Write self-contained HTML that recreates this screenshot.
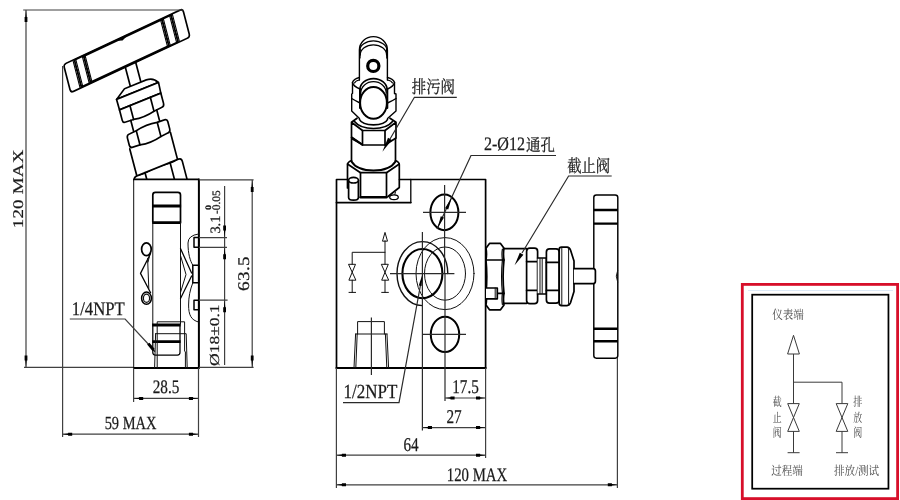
<!DOCTYPE html>
<html lang="zh">
<head>
<meta charset="utf-8">
<title>Valve manifold drawing</title>
<style>
html,body{margin:0;padding:0;background:#fff;}
body{width:900px;height:500px;overflow:hidden;}
svg{display:block;}
.o{fill:none;stroke:#000;stroke-width:1.7;stroke-linejoin:round;stroke-linecap:round;}
.w{fill:#fff;stroke:#000;stroke-width:1.7;stroke-linejoin:round;stroke-linecap:round;}
.t{fill:none;stroke:#111;stroke-width:1;stroke-linecap:round;stroke-linejoin:round;}
.k{fill:none;stroke:#000;stroke-width:2.6;}
.d{fill:none;stroke:#404040;stroke-width:1.2;}
.a{fill:#000;stroke:none;}
text{font-family:"Liberation Serif","Noto Serif CJK SC",serif;fill:#1a1a1a;stroke:#1a1a1a;stroke-width:0.25;text-rendering:geometricPrecision;}
.n{font-size:19px;}
.c{font-family:"Liberation Serif","Noto Serif CJK SC",serif;font-size:15px;fill:#222;}
.s{font-family:"Liberation Serif","Noto Serif CJK SC",serif;font-size:12.4px;fill:#4a4a4a;stroke:none;}
</style>
</head>
<body>
<svg width="900" height="500" viewBox="0 0 900 500">
<rect x="0" y="0" width="900" height="500" fill="#fff"/>

<!-- ============ LEFT VIEW ============ -->
<g id="leftview">
<!-- tilted valve -->
<g id="lv-valve" transform="matrix(0.927,-0.375,0.254,0.967,131.1,67)">
  <!-- stem -->
  <path class="w" d="M-5.7,-4 L-5.7,19 L5.7,19 L5.7,-4 Z"/>
  <!-- dome -->
  <path class="w" d="M-22.5,24.8 L-12,17.8 L11.5,17.8 Q19,18 22.5,24.8 Z"/>
  <!-- cap band -->
  <path class="w" d="M-22.5,24.8 L22.8,24.8 L22.3,35.7 L-22.3,35.7 Z"/>
  <!-- hex1 -->
  <path class="w" d="M-22.3,35.7 L22.3,35.7 L22.3,46.4 Q22.3,49.4 19.3,49.4 L11,50 Q0,52.4 -11,50 L-19.3,49.4 Q-22.3,49.4 -22.3,46.4 Z"/>
  <path class="o" d="M-11,35.7 L-11,50 M11,35.7 L11,50"/>
  <!-- neck -->
  <path class="o" d="M-14,49.8 L-14,62 M14,49.8 L14,62"/>
  <!-- nut2 -->
  <path class="w" d="M-18.8,62 L-11.3,61.6 Q0,59 11.3,61.6 L18.8,62 Q21.8,62 21.8,65 L21.8,72.6 Q21.8,75.6 18.8,75.6 L11.3,76.2 Q0,78.8 -11.3,76.2 L-18.8,75.6 Q-21.8,75.6 -21.8,72.6 L-21.8,65 Q-21.8,62 -18.8,62 Z"/>
  <path class="o" d="M-11.3,61.6 L-11.3,76.2 M11.3,61.6 L11.3,76.2"/>
  <!-- body cylinder -->
  <path class="o" d="M-22.3,76 L-22.3,104.5 M21.6,76 L21.6,104"/>
  <!-- nut3 -->
  <path class="w" d="M-22.8,104 L22.5,104 Q25.8,104 25.8,107.5 L25.8,130 L-25.8,130 L-25.8,107.5 Q-25.8,104 -22.8,104 Z"/>
  <path class="a" d="M-22.8,104 L-13.5,104 L-13.5,105.2 Q-18,105.6 -22.8,104 Z M-13.5,104 L13.5,104 L13.5,105.2 Q6,104.2 0,104.2 Q-6,104.2 -13.5,105.2 Z M13.5,104 L22.5,104 Q18,105.6 13.5,105.2 Z"/>
  <path class="o" d="M-13.5,104 L-13.5,130 M13.5,104 L13.5,130"/>
</g>
<!-- handle -->
<g id="lv-handle" transform="matrix(0.906,-0.423,0.251,0.968,126.75,50.75)">
  <rect class="w" x="-65.8" y="-14.5" width="131.6" height="29" rx="3" ry="3"/>
  <rect class="w" x="-53.9" y="-13.9" width="106.6" height="27.8"/>
  <rect class="w" x="-43.7" y="-13.5" width="86.4" height="27"/>
  <g fill="none" stroke="#000" style="stroke-width:1.1">
  <path d="M-55.4,-14.2 L-55.4,14.2 M-52.4,-14 L-52.4,14 M-45.2,-13.8 L-45.2,13.8 M-42.2,-13.6 L-42.2,13.6 M41.2,-13.6 L41.2,13.6 M44.2,-13.8 L44.2,13.8 M51.2,-14 L51.2,14 M54.2,-14.2 L54.2,14.2"/>
  <path style="stroke-width:1.6" stroke-dasharray="1.6,1.6" d="M-53.9,-14 L-53.9,14 M-43.7,-13.6 L-43.7,13.6 M42.7,-13.6 L42.7,13.6 M52.7,-14 L52.7,14"/>
  </g>
  <path class="a" d="M-7,-13.5 L-1.5,-11.3 L4,-13.5 Z"/>
</g>
<!-- body -->
<rect x="133.8" y="179.8" width="64.9" height="188.2" fill="#fff" stroke="none"/>
<path class="o" style="stroke-width:0.95" d="M133.7,368 L133.7,179.8"/>
<path class="o" style="stroke-width:1.6" d="M133.8,179.4 L198.9,179.4"/>
<path class="o" style="stroke-width:2" d="M198.9,179.6 L198.9,368"/>
<path class="o" style="stroke-width:1.8" d="M133.8,368 L198.7,368"/>
<!-- upper plug -->
<path class="o" d="M152.8,222.5 L152.8,195 Q152.8,192.4 155.4,192.4 L177.9,192.4 Q180.5,192.4 180.5,195 L180.5,222.5"/>
<path class="k" style="stroke-width:2.8" d="M152.2,206 L181.1,206 M152.2,222.6 L181.1,222.6"/>
<path class="t" d="M152.8,222.5 L152.8,324 M180.5,222.5 L180.5,324"/>
<!-- lower plug -->
<path class="k" style="stroke-width:2.9" d="M152.2,325 L180.6,325 M152.2,341.6 L180.6,341.6"/>
<path class="o" style="stroke-width:1.25" d="M152.8,324.4 L152.8,352.6 Q152.8,355.1 155.4,355.1 L177.4,355.1 Q180,355.1 180,352.6 L180,324.4"/>
<path class="t" d="M157.2,368 L157.2,321.8 L184.6,321.8 L184.6,351 L185.4,352 L185.4,368 M155.6,333.7 L154.6,368 M155.6,333.7 L186.2,333.7 L187.2,368"/>
<!-- left circles and springs -->
<ellipse class="o" cx="146.4" cy="249.2" rx="4.8" ry="6.4"/>
<ellipse class="o" cx="146.5" cy="298.2" rx="4.9" ry="6.1" style="stroke-width:1.5"/>
<ellipse class="t" cx="146.5" cy="298.2" rx="3.1" ry="4.1" style="stroke-width:1.2"/>
<path class="o" style="stroke-width:1.25" d="M150.6,253.5 L140.5,273.4 L150.6,292.8"/>
<path class="t" d="M147.6,258.5 L148.8,288.5 M149.6,256 L148,262"/>
<!-- right springs -->
<path class="o" style="stroke-width:1.25" d="M180.5,248.6 L191.6,273 M191.6,276 L180.5,298.5"/>
<path class="t" d="M180.5,255.5 L186,274.5 L180.5,292.5"/>
<path class="t" d="M198.4,234 Q188,235.5 188,243 C188,254 190.2,261 192.8,265.2 M192.8,282.8 C190,290 188.6,297 188.6,305 C188.6,315 191,320 198.4,322"/>
<rect class="o" x="194" y="237.6" width="4.7" height="9.7" style="stroke-width:1.5"/>
<rect class="o" x="192.8" y="265.2" width="5.9" height="17.6" style="stroke-width:1.5"/>
<rect class="o" x="194" y="300.3" width="4.7" height="9.5" style="stroke-width:1.5"/>
</g>

<!-- left view dimensions -->
<defs>
<filter id="g" x="-5%" y="-5%" width="110%" height="110%" color-interpolation-filters="sRGB"><feOffset dx="0" dy="0"/></filter>
<path id="ah" d="M0,0 L5.5,-0.7 L5.5,-1.5 L9.6,-1.5 L9.6,1.5 L5.5,1.5 L5.5,0.7 Z"/>
<path id="av" d="M0,0 L7,-0.7 L7,-1.4 L12,-1.4 L12,1.4 L7,1.4 L7,0.7 Z"/>
</defs>
<g id="lv-dims" filter="url(#g)">
<path class="d" d="M23.2,10 L183,10 M26,10 L26,367.4 M24,367.4 L133,367.4 M199,367.4 L253.6,367.4 M199,179.9 L253.6,179.9 M252.2,179.9 L252.2,367.4"/>
<path class="d" d="M62.6,66 L62.6,437 M198.5,368 L198.5,437 M133.6,368 L133.6,402 M133.6,398.4 L198.5,398.4 M62.6,434.2 L198.5,434.2"/>
<path class="d" d="M224.6,186 L224.6,365 M199,237.6 L227,237.6 M199,247.3 L227,247.3 M199,300.2 L227.6,300.2"/>
<!-- arrows -->
<g class="a">
<use href="#av" transform="translate(26,10) rotate(90)"/>
<use href="#av" transform="translate(26,367.4) rotate(-90)"/>
<use href="#av" transform="translate(252.2,179.9) rotate(90)"/>
<use href="#av" transform="translate(252.2,367.4) rotate(-90)"/>
<use href="#av" transform="translate(224.6,237.6) rotate(-90)"/>
<use href="#av" transform="translate(224.6,247.3) rotate(90)"/>
<use href="#av" transform="translate(224.6,300.2) rotate(90)"/>
<use href="#ah" transform="translate(133.6,398.4)"/>
<use href="#ah" transform="translate(198.5,398.4) rotate(180)"/>
<use href="#ah" transform="translate(62.6,434.2)"/>
<use href="#ah" transform="translate(198.5,434.2) rotate(180)"/>
</g>
<!-- leader 1/4NPT -->
<path class="d" d="M69.8,319 L125.1,319 L151,347"/>
<path d="M148.3,343.6 L153.6,350" stroke="#000" style="stroke-width:3" fill="none"/><path d="M153,349.5 L154.8,351.6" stroke="#000" style="stroke-width:1.2" fill="none"/>
<!-- text -->
<text class="n" transform="translate(166,393.4) scale(0.8,1)" text-anchor="middle" style="font-size:19px">28.5</text>
<text class="n" transform="translate(130.5,428.8) scale(0.78,1)" text-anchor="middle" style="font-size:18.5px">59 MAX</text>
<text class="n" transform="translate(22.9,188.8) rotate(-90) scale(1,0.78)" text-anchor="middle" letter-spacing="0.2">120 MAX</text>
<text class="n" transform="translate(249,273.5) rotate(-90) scale(1,0.85)" text-anchor="middle" style="font-size:19.2px" letter-spacing="0.3">63.5</text>
<text class="n" transform="translate(218.8,335.2) rotate(-90) scale(1,0.78)" text-anchor="middle" style="font-size:17.5px">Ø18±0.1</text>
<text class="n" transform="translate(220.2,233.6) rotate(-90)" style="font-size:14.4px">3.1</text>
<text class="n" transform="translate(220.2,214) rotate(-90)" style="font-size:11.4px">-0.05</text>
<text class="n" transform="translate(210.6,207.5) rotate(-90) scale(1.2,1)" style="font-size:8.4px;font-weight:bold" text-anchor="middle">0</text>
<text class="n" transform="translate(98.3,314.5) scale(0.87,1)" text-anchor="middle" style="font-size:19.2px">1/4NPT</text>
</g>

<!-- ============ FRONT VIEW ============ -->
<g id="frontview">
<!-- body -->
<path class="o" style="stroke-width:1.7" d="M347,179.5 L336.5,179.5 L336.5,368 M399.5,179.5 L485.6,179.5 L485.6,368"/>
<path class="o" style="stroke-width:2.2" d="M336.5,368 L485.6,368"/>
<path class="o" style="stroke-width:1.8" d="M336.5,202.6 L410.8,202.6"/>
<path class="o" style="stroke-width:1.3" d="M410.8,202.6 L410.8,179.5"/>

<!-- top valve: handle end-on -->
<path class="w" style="stroke-width:1.4" d="M359.4,80 L359.4,50 A14,13.4 0 0 1 387.4,50 L387.4,80"/>
<path class="o" style="stroke-width:1.3" d="M359.8,50.5 A13.6,9.6 0 0 1 387,50.5 M360.2,55 A13.2,10.2 0 0 1 386.6,55"/>
<path class="a" d="M359.3,49 L360.8,49 L360.6,58 L359.3,60 Z M387.5,49 L386,49 L386.2,58 L387.5,60 Z"/>
<circle cx="373.3" cy="65.9" r="5.6" fill="#fff" stroke="#000" style="stroke-width:3.2"/>
<!-- collar -->
<path class="o" style="stroke-width:1.4" d="M359.3,77.5 Q353.5,79 352.5,82.5 L352.5,93.5 L351.7,94 L351.7,111 L359.5,118.5"/>
<path class="o" style="stroke-width:1.4" d="M387.5,77.5 Q393.5,79 394.5,82.5 L394.5,93.5 L396,94 L396,111 L387.5,118.5"/>
<path class="o" style="stroke-width:1.2" d="M354.5,83 Q355.5,80.8 359.3,80 M392.5,83 Q391.5,80.8 387.5,80"/>
<path class="o" style="stroke-width:1.4" d="M352.5,82.5 Q353.5,86.5 360,89 M394.5,82.5 Q393.5,86.5 387.5,89"/>
<path class="o" style="stroke-width:1.4" d="M351.7,98.5 Q355,100.5 360,103 M396,98.5 Q393,100.5 387.5,103"/>
<!-- arcs above dome -->
<path class="o" d="M359.8,90 A13.7,11.4 0 0 1 387.2,90"/>
<path class="o" style="stroke-width:1.2" d="M360.8,93 A12.7,11.3 0 0 1 386.2,93"/>
<path class="o" style="stroke-width:2" d="M360,89 L360,108 M387.3,89 L387.3,108"/>
<ellipse cx="373.5" cy="102.9" rx="13.4" ry="15.8" fill="#fff" stroke="#000" style="stroke-width:2"/>
<!-- nut2 (top view hex) -->
<path class="w" d="M351.5,122.3 L357,118.2 M396,122.3 L390,118.2 M351.5,122.3 L351.5,137.5 L362.5,145 L385,145 L396,138 L396,122.3 L385,130.5 L362.5,130.5 Z"/>
<path class="o" d="M354.5,121.5 Q360,128.5 373.5,128.5 Q387,128.5 392.5,121.5"/>
<path class="o" d="M359.5,119.5 Q362,124.8 373.5,124.8 Q385,124.8 387.5,119.5"/>
<path class="o" d="M362.5,130.5 L362.5,145 M385,130.5 L385,145"/>
<path class="a" d="M351.5,136 L362.5,143.5 L362.5,145.6 L351.5,139.5 Z"/>
<!-- cylinder -->
<path class="o" d="M351.5,137.5 L351.5,161.5 M395.5,138 L395.5,161.5"/>
<path class="o" style="stroke-width:2" d="M351.5,161.5 Q357,170.5 373.5,170.5 Q390,170.5 395.5,161.5"/>
<!-- nut3 -->
<path class="o" d="M351.5,160.5 Q347.5,162 347.5,165 L347.5,188 M395.5,160.5 Q399.3,162 399.3,165 L399.3,187.5 L388,196.5"/>
<path class="o" d="M347.5,164 L360.5,172.7 L386.5,172.7 L399.3,164"/>
<path class="o" d="M360.5,172.7 L360.5,196.5 M386.5,172.7 L386.5,196.5"/>
<path class="o" style="stroke-width:2.4" d="M360.5,197.3 L386.5,197.3"/>
<path class="t" d="M395.5,192 L394.5,195.5"/>
<ellipse class="w" cx="394" cy="197.2" rx="4.3" ry="2.4" style="stroke-width:1.3"/>
<!-- pin -->
<path class="w" d="M348.6,180.2 L348.6,197.5 Q348.6,200.2 353.5,200.2 Q358.4,200.2 358.4,197.5 L358.4,180.2"/>
<ellipse class="w" cx="353.5" cy="180.2" rx="4.9" ry="2.8"/>

<!-- holes -->
<ellipse class="o" cx="444.4" cy="212.4" rx="14" ry="17.8" style="stroke-width:2"/>
<ellipse class="o" cx="445" cy="334.4" rx="14.2" ry="17.7" style="stroke-width:2"/>
<!-- main port -->
<ellipse class="t" cx="445" cy="273.6" rx="29" ry="36"/>
<ellipse class="t" cx="445" cy="273.6" rx="20.5" ry="26.6"/>
<path class="t" style="stroke-width:1.4" d="M447.8,273.6 A25.4,32 0 1 0 422.4,305.6"/>
<ellipse class="o" cx="422.4" cy="273.6" rx="20" ry="24.6" style="stroke-width:2.1"/>
<!-- center lines -->
<path class="d" style="stroke:#2a2a2a" d="M423,212.4 L466,212.4 M444.6,185 L444.6,274 M445,274 L445,401 M390,273.6 L454.4,273.6 M422.4,232 L422.4,430.5 M423,334.4 L466,334.4"/>
<!-- bottom port -->
<path class="t" d="M357.6,334 L357.6,321.6 L384.4,321.6 L384.4,334 M355.6,334 L387,334 M355.6,334 L354,368 M357.2,334 L355.8,368 M387,334 L388.6,368 M385.4,334 L386.8,368"/>
<path class="d" style="stroke:#2a2a2a" d="M371.4,317.6 L371.4,375"/>
<!-- schematic symbol -->
<path class="t" style="stroke-width:1" d="M385,240.8 L385,264.3 M352.2,264.3 L352.2,252.3 L385,252.3 M382.6,240.8 L385,232.4 L387.4,240.8 Z M348.9,264.3 L355.5,264.3 L348.9,280.2 L355.5,280.2 Z M381.7,264.3 L388.3,264.3 L381.7,280.2 L388.3,280.2 Z M352.2,280.2 L352.2,292.4 M385,280.2 L385,292.4 M349,292.4 L355.6,292.4 M381.7,292.4 L388.4,292.4"/>

<!-- horizontal valve -->
<path class="w" d="M486,248.2 L489.5,243.4 L500.5,243.4 L504,248.2 Q503,254 504,260 Q502.2,276.5 504,293.3 Q503,299 504,305 L500.5,309.8 L489.5,309.8 L486,305 Q487,299 486,293.3 Q487.6,276.5 486,260 Q487,254 486,248.2 Z"/>
<path class="o" d="M486,260 L504,260 M486,293.3 L504,293.3"/>
<path class="o" style="stroke-width:1.2" d="M502.4,249 Q501.6,254 502.4,260 Q500.8,276.5 502.4,293.3 Q501.6,299 502.4,304.5"/>
<path class="w" d="M486,288 L497.3,288 L497.3,298.8 L486,298.8"/>
<path class="t" d="M495.2,288 L495.2,298.8"/>
<path class="o" d="M504,248.6 L526.6,248.6 M504,303.3 L526.6,303.3"/>
<rect class="w" x="526.6" y="248.2" width="11" height="55.4" rx="3.2" ry="3.2"/>
<path class="o" d="M526.6,261.6 L537.6,261.6 M526.6,290.4 L537.6,290.4"/>
<path class="w" d="M537.6,258 L546.4,258 L546.4,294 L537.6,294"/>
<path class="t" d="M540,258.5 L540,293.5 M542.2,258.5 L542.2,293.5"/>
<rect class="w" x="546.4" y="248.8" width="12.8" height="54.4" rx="3.2" ry="3.2"/>
<path class="o" d="M546.4,262.4 L559.2,262.4 M546.4,290.4 L559.2,290.4"/>
<path class="w" d="M559.2,249.5 Q559.2,247.2 561.5,247.2 L567,247.2 Q569.5,247.4 570.5,250 L574,261 L574,291.5 L570.5,302.8 Q569.5,305.4 567,305.6 L561.5,305.6 Q559.2,305.6 559.2,303.3 Z"/>
<path class="t" d="M561.8,247.6 L561.8,305.2 M568.6,248 L568.6,305"/>
<!-- handle -->
<rect class="w" x="593.8" y="195" width="24" height="163.2" rx="2.6" ry="2.6" style="stroke-width:1.45"/>
<path class="k" style="stroke-width:2.4" d="M593.8,210 L617.8,210 M593.8,223.6 L617.8,223.6 M593.8,328.8 L617.8,328.8 M593.8,341.2 L617.8,341.2"/>
<path class="t" d="M617.6,270.5 Q614.8,276 617.6,282"/>
<!-- stem -->
<path class="w" d="M574,268.6 L593.4,268.6 Q595.4,268.8 595.4,271 L595.4,281.2 Q595.4,283.4 593.4,283.6 L574,283.6"/>
</g>

<!-- front view dims / leaders / text -->
<g id="fv-dims" filter="url(#g)">
<path class="d" d="M485.6,368 L485.6,458 M336.4,368 L336.4,488 M617.4,358 L617.4,488 M445,398 L485.6,398 M422.4,427.6 L485.6,427.6 M336.4,455.2 L485.6,455.2 M336.4,484.8 L617.4,484.8"/>
<g class="a">
<use href="#ah" transform="translate(445,398)"/><use href="#ah" transform="translate(485.6,398) rotate(180)"/>
<use href="#ah" transform="translate(422.4,427.6)"/><use href="#ah" transform="translate(485.6,427.6) rotate(180)"/>
<use href="#ah" transform="translate(336.4,455.2)"/><use href="#ah" transform="translate(485.6,455.2) rotate(180)"/>
<use href="#ah" transform="translate(336.4,484.8)"/><use href="#ah" transform="translate(617.4,484.8) rotate(180)"/>
</g>
<!-- 1/2NPT leader -->
<path class="d" style="stroke:#2a2a2a" d="M343,402.6 L399,402.6 L420.5,285"/>
<path class="a" d="M422.6,273.6 L421.6,286 L418.8,285.5 Z"/>
<!-- 排污阀 leader -->
<path class="d" style="stroke:#2a2a2a" d="M456.8,97.3 L414.4,97.3 L390,139"/>
<path class="a" d="M382.4,151.8 L388,137.8 L391.8,140 Z"/>
<!-- 2-Ø12 leader -->
<path class="d" style="stroke:#2a2a2a" d="M556,155.5 L471,155.5 L437,229"/>
<path class="a" d="M452,197 L448.2,209.6 L445,208.2 Z M437.4,228.6 L440.8,216.2 L444,217.6 Z"/>
<!-- 截止阀 leader -->
<path class="d" style="stroke:#2a2a2a" d="M611.7,176 L568.6,176 L522,253"/>
<path class="a" d="M514.6,265.2 L519.8,252.8 L523.4,254.8 Z"/>
<!-- text -->
<text class="n" transform="translate(465.5,393) scale(0.78,1)" text-anchor="middle" style="font-size:19.5px">17.5</text>
<text class="n" transform="translate(454,423) scale(0.78,1)" text-anchor="middle" style="font-size:19.5px">27</text>
<text class="n" transform="translate(411,451) scale(0.78,1)" text-anchor="middle" style="font-size:19.5px">64</text>
<text class="n" transform="translate(477,480.8) scale(0.78,1)" text-anchor="middle">120 MAX</text>
<text class="n" transform="translate(370.5,398.4) scale(0.85,1)" text-anchor="middle" style="font-size:20px">1/2NPT</text>
<text class="c" transform="translate(433.4,93.2) scale(0.82,1)" text-anchor="middle" style="font-size:17.5px">排污阀</text>
<text class="c" transform="translate(588.7,171.8) scale(0.82,1)" text-anchor="middle" style="font-size:17.5px">截止阀</text>
<text class="n" transform="translate(484,150.4) scale(0.845,1)" style="font-size:19px">2-Ø12</text>
<text class="c" transform="translate(526,151) scale(0.85,1)" style="font-size:17px">通孔</text>
</g>

<!-- ============ SCHEMATIC BOX ============ -->
<g id="schematic" filter="url(#g)">
<rect x="742.3" y="284.4" width="155.3" height="214.2" fill="#fff" stroke="#d70f2a" style="stroke-width:2.8"/>
<path d="M748,290.5 L893,290.5" stroke="#dce9f7" style="stroke-width:1" fill="none"/>
<rect x="752.2" y="294.7" width="136.25" height="194" fill="none" stroke="#000" style="stroke-width:1.75"/>
<path fill="none" stroke="#3a3a3a" style="stroke-width:1" d="M793.5,354 L793.5,403.6 M787.6,354 L793.5,335.3 L799.4,354 Z M793.5,382.2 L842,382.2 L842,403.6 M787.7,403.6 L799.3,403.6 L787.7,431.4 L799.3,431.4 Z M836.2,403.6 L847.8,403.6 L836.2,431.4 L847.8,431.4 Z M793.5,431.4 L793.5,452.7 M842,431.4 L842,452.7 M787.6,452.7 L799.6,452.7 M836,452.7 L848,452.7"/>
<text class="s" transform="translate(788,319) scale(0.85,1)" text-anchor="middle">仪表端</text>
<text class="s" transform="translate(787,474.6) scale(0.85,1)" text-anchor="middle">过程端</text>
<text class="s" transform="translate(856.6,474.6) scale(0.85,1)" text-anchor="middle">排放/测试</text>
<text class="s" transform="translate(777.3,406.4) scale(0.72,1)" text-anchor="middle">截</text>
<text class="s" transform="translate(777.3,421.7) scale(0.72,1)" text-anchor="middle">止</text>
<text class="s" transform="translate(777.3,437) scale(0.72,1)" text-anchor="middle">阀</text>
<text class="s" transform="translate(857.6,406.4) scale(0.72,1)" text-anchor="middle">排</text>
<text class="s" transform="translate(857.6,421.7) scale(0.72,1)" text-anchor="middle">放</text>
<text class="s" transform="translate(857.6,437) scale(0.72,1)" text-anchor="middle">阀</text>
</g>

</svg>
</body>
</html>
